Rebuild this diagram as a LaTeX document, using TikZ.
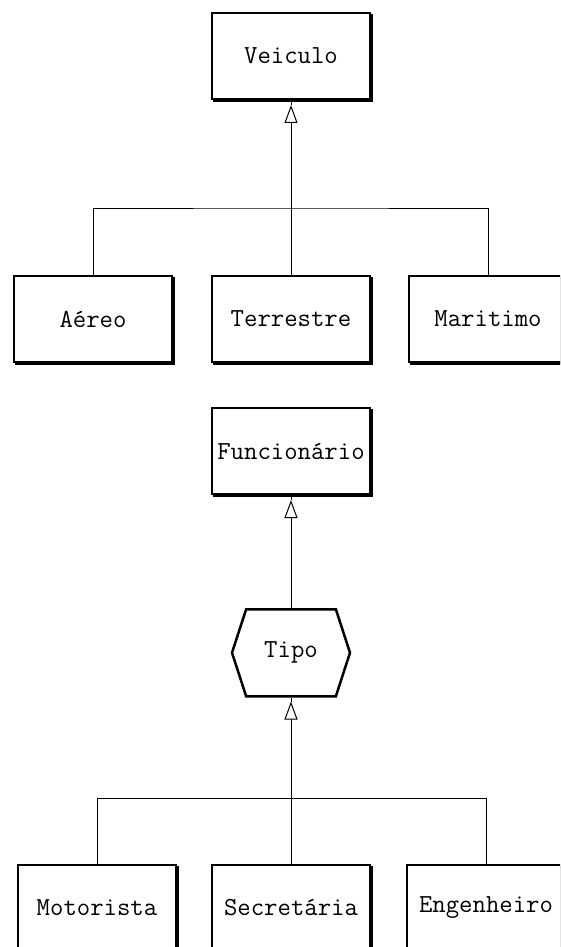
\documentclass[tikz,border=0pt]{standalone}
\usepackage{fontspec}
\usepackage{tikz}
\usetikzlibrary{positioning,arrows.meta,shapes.symbols,shadows}

\begin{document}
\begin{tikzpicture}[
			x=1pt,y=1pt,
			class/.style={
				draw,
				fill=white,
				line width=2pt,
				align=center,
				font=\ttfamily\fontsize{26}{30}\selectfont,
				minimum width=158pt,
				minimum height=86pt,
				general shadow={fill=black,draw=black,shadow xshift=2pt,shadow yshift=-2pt}
			},
			kind/.style={
				draw,
				fill=white,
				line width=2.5pt,
				signal,
				signal to=west and east,
				signal pointer angle=144,
				font=\ttfamily\fontsize{26}{30}\selectfont,
				minimum width=118pt,
				minimum height=87pt
			},
			link/.style={line width=1pt},
			gen/.style={line width=1pt,-{Triangle[fill=white,length=18pt,width=13pt]}}
			]
			
			\clip (0,0) rectangle (560,-947);
			\fill[white] (0,0) rectangle (560,-947);
			
			% first hierarchy
			\node[class] (veiculo) at (291,-56) {Veiculo};
			\node[class,below=175pt of veiculo] (terrestre) {Terrestre};
			\node[class,left=38pt of terrestre] (aereo) {Aéreo};
			\node[class,right=37pt of terrestre] (maritimo) {Maritimo};
			
			\coordinate[above=67pt of terrestre] (tbus);
			\coordinate[below=5pt of veiculo.south] (vtip);
			
			\draw[link] (aereo.north) |- (tbus) -| (maritimo.north);
			\draw[link] (terrestre.north) -- (tbus);
			\draw[link] (vtip) -- (veiculo.south);
			\draw[gen] (tbus) -- (vtip);
			
			% second hierarchy
			\node[class,below=44pt of terrestre] (funcionario) {Funcionário};
			\node[kind,below=113pt of funcionario] (tipo) {Tipo};
			\node[class,below=166pt of tipo] (secretaria) {Secretária};
			\node[class,left=34pt of secretaria] (motorista) {Motorista};
			\node[class,right=35pt of secretaria] (engenheiro) {Engenheiro};
			
			\coordinate[above=65pt of secretaria] (bbus);
			\coordinate[below=5pt of funcionario.south] (ftip);
			\coordinate[below=4pt of tipo.south] (ttip);
			
			\draw[link] (motorista.north) |- (bbus) -| (engenheiro.north);
			\draw[link] (secretaria.north) -- (bbus);
			\draw[link] (ttip) -- (tipo.south);
			\draw[gen] (bbus) -- (ttip);
			\draw[link] (ftip) -- (funcionario.south);
			\draw[gen] (tipo.north) -- (ftip);
			
		\end{tikzpicture}
\end{document}
